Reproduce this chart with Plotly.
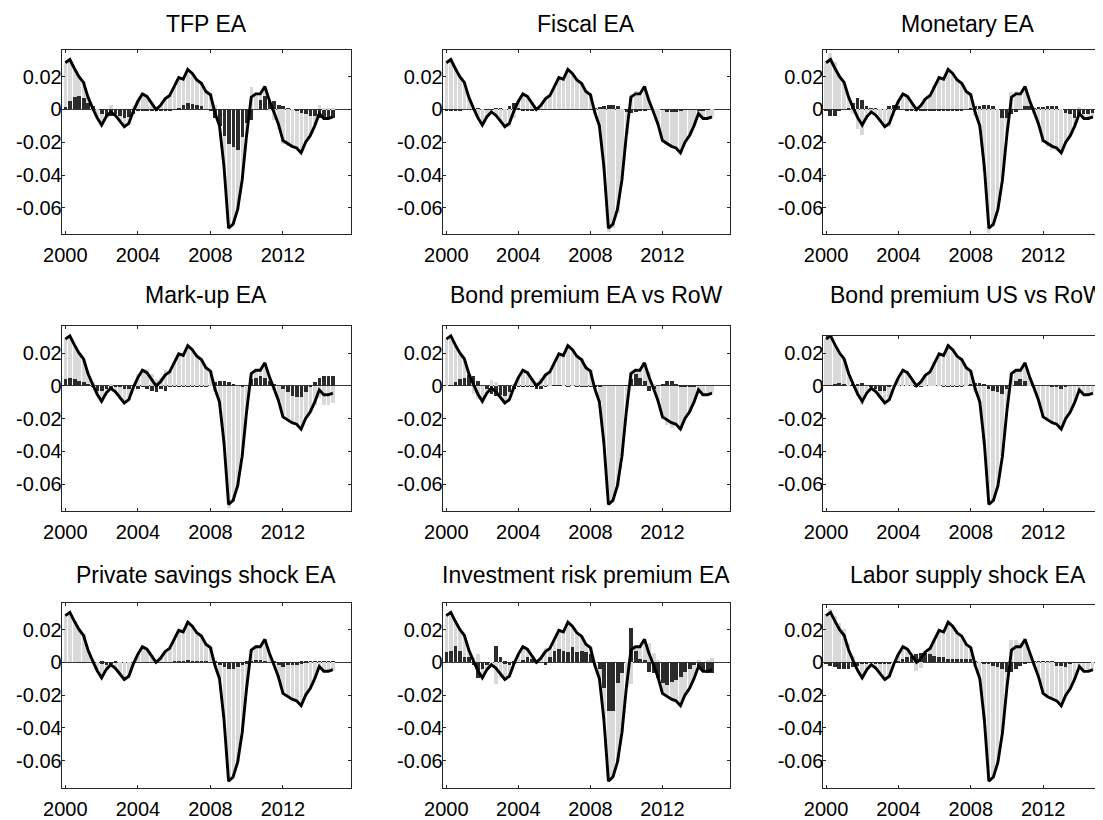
import plotly.graph_objects as go

# ---------------- data ----------------
dates = [2000 + 0.25 * i for i in range(60)]  # 2000Q1 .. 2014Q4

total = [0.0285, 0.0305, 0.0250, 0.0200, 0.0165, 0.0075, 0.0010, -0.0050,
         -0.0095, -0.0045, -0.0015, -0.0035, -0.0070, -0.0105, -0.0085, -0.0010,
         0.0050, 0.0095, 0.0080, 0.0040, 0.0000, 0.0025, 0.0065, 0.0085,
         0.0145, 0.0195, 0.0185, 0.0245, 0.0220, 0.0180, 0.0160, 0.0110,
         0.0090, -0.0020, -0.0100, -0.0350, -0.0725, -0.0700, -0.0610, -0.0430,
         -0.0150, 0.0075, 0.0095, 0.0095, 0.0140, 0.0055, -0.0015, -0.0090,
         -0.0190, -0.0210, -0.0225, -0.0235, -0.0265, -0.0200, -0.0160, -0.0100,
         -0.0025, -0.0055, -0.0055, -0.0045]

tfp = [0.0015, 0.005, 0.0075, 0.0085, 0.007, 0.004, 0.002, 0.0,
       -0.003, -0.004, -0.004, -0.003, -0.004, -0.005, -0.0045, -0.003,
       -0.001, -0.0005, -0.0005, -0.0005, -0.0005, -0.0005, -0.0005, -0.0005,
       0.0005, 0.001, 0.003, 0.004, 0.0035, 0.003, 0.002, 0.0,
       -0.001, -0.005, -0.010, -0.016, -0.021, -0.023, -0.025, -0.017,
       -0.008, -0.0065, 0.0, 0.006, 0.008, 0.006, 0.005, 0.003,
       0.002, 0.001, 0.0, -0.001, -0.002, -0.003, -0.004, -0.004,
       -0.005, -0.006, -0.006, -0.005]

fiscal = [-0.0005, -0.0005, -0.0005, -0.0005, 0.0, 0.0, 0.0005, 0.0005,
          0.0, -0.0005, -0.0005, 0.001, 0.0005, 0.0, 0.002, 0.004,
          0.001, -0.0005, -0.0005, -0.0005, 0.0, 0.0, 0.0, 0.0,
          0.0, 0.0, 0.0, 0.0, 0.0, 0.0, 0.0, 0.0,
          0.0005, 0.001, 0.0015, 0.002, 0.0025, 0.0025, 0.002, 0.0,
          -0.0015, -0.002, -0.0015, -0.001, -0.0005, 0.0, 0.0, 0.0,
          -0.0005, -0.0015, -0.0015, -0.0015, -0.001, -0.0005, -0.0005, -0.0005,
          -0.001, -0.001, -0.0005, 0.0]

monetary = [-0.001, -0.004, -0.004, -0.001, 0.0, 0.001, 0.004, 0.007,
            0.006, 0.002, 0.001, 0.0005, 0.0, 0.0, 0.002, 0.003,
            0.002, 0.0, -0.0005, -0.0005, -0.0005, -0.0005, -0.0005, -0.0005,
            -0.0005, -0.0005, -0.0005, -0.0005, -0.0005, -0.0005, -0.0005, 0.0,
            0.001, 0.002, 0.002, 0.0025, 0.003, 0.002, 0.0, -0.005,
            -0.005, -0.003, -0.0015, 0.0, 0.002, 0.002, 0.001, 0.0015,
            0.0015, 0.002, 0.002, 0.002, 0.0, -0.002, -0.003, -0.005,
            -0.004, -0.003, -0.003, -0.002]

markup = [0.004, 0.005, 0.004, 0.003, 0.002, 0.001, -0.001, -0.003,
          -0.003, -0.002, -0.002, -0.001, -0.001, -0.002, -0.002, -0.001,
          -0.002, -0.001, -0.002, -0.003, -0.004, -0.002, -0.003, -0.001,
          -0.0005, -0.0005, -0.0005, -0.0005, -0.0005, -0.0005, -0.0005, -0.0005,
          0.0, 0.002, 0.003, 0.003, 0.002, 0.001, 0.0, -0.001,
          0.0, 0.004, 0.005, 0.006, 0.005, 0.003, 0.001, 0.0,
          -0.002, -0.004, -0.006, -0.007, -0.007, -0.004, -0.001, 0.002,
          0.005, 0.006, 0.006, 0.006]

bond_ea = [0.0, 0.0005, 0.002, 0.004, 0.005, 0.007, 0.006, 0.003,
           0.0, -0.002, -0.005, -0.006, -0.006, -0.006, -0.004, -0.002,
           -0.001, -0.001, -0.001, -0.001, -0.002, -0.002, -0.001, 0.0,
           0.0005, 0.0005, 0.0, -0.0005, 0.0, -0.0005, -0.001, -0.001,
           -0.001, -0.001, -0.001, 0.0, 0.0, 0.0, 0.0, 0.0,
           0.0, 0.004, 0.007, 0.005, 0.003, -0.003, -0.002, 0.0,
           0.001, 0.003, 0.003, 0.001, -0.0005, -0.0005, -0.001, -0.001,
           0.0, 0.0, 0.0, 0.0]

bond_us = [0.0005, 0.0005, 0.001, 0.002, 0.001, 0.0, 0.001, 0.001,
           0.002, 0.0, -0.001, -0.002, -0.003, -0.003, -0.001, 0.0,
           0.0, 0.0, 0.0, 0.0, -0.001, -0.0005, 0.0, 0.0,
           0.0, 0.0, -0.001, -0.001, -0.001, -0.001, -0.001, 0.0,
           0.001, 0.002, 0.002, 0.001, -0.002, -0.003, -0.004, -0.005,
           -0.002, 0.0, 0.003, 0.004, 0.003, 0.0, 0.0, 0.0,
           0.0, 0.0, -0.001, -0.001, -0.002, -0.001, 0.0, 0.0,
           0.0, 0.0, 0.0, 0.0]

savings = [0.0, 0.0, 0.0, -0.0005, -0.0005, 0.0, 0.0, 0.0,
           -0.001, -0.002, -0.0015, -0.0005, 0.0, 0.0, 0.0, 0.0,
           0.0, 0.0, 0.0, 0.0, 0.0, 0.0, 0.0, 0.0,
           0.0005, 0.0005, 0.0005, 0.001, 0.0005, 0.0005, 0.0005, 0.0005,
           0.0, -0.001, -0.002, -0.003, -0.004, -0.004, -0.003, -0.002,
           -0.001, 0.0005, 0.001, 0.001, 0.0005, 0.0, -0.001, -0.002,
           -0.003, -0.002, -0.002, -0.002, -0.001, -0.0005, 0.0005, 0.0005,
           0.0005, 0.0005, 0.0005, 0.0005]

invest = [0.006, 0.007, 0.010, 0.007, 0.003, 0.003, -0.002, -0.010,
          -0.004, -0.002, 0.0, 0.010, 0.003, -0.001, -0.002, -0.001,
          0.0, 0.001, 0.003, 0.002, 0.001, 0.0, -0.002, 0.003,
          0.007, 0.008, 0.007, 0.006, 0.009, 0.006, 0.007, 0.006,
          0.005, 0.0, -0.004, -0.016, -0.030, -0.030, -0.013, -0.007,
          0.0, 0.021, 0.007, 0.002, 0.001, -0.006, -0.007, -0.010,
          -0.013, -0.014, -0.012, -0.011, -0.009, -0.006, -0.004, -0.002,
          -0.004, -0.005, -0.007, -0.007]

labor = [-0.001, -0.002, -0.003, -0.004, -0.004, -0.004, -0.003, -0.002,
         -0.001, -0.001, -0.001, -0.001, -0.001, -0.001, -0.001, 0.0,
         0.001, 0.002, 0.003, 0.004, 0.005, 0.006, 0.006, 0.005,
         0.004, 0.003, 0.003, 0.002, 0.002, 0.002, 0.002, 0.002,
         0.002, 0.001, 0.0, -0.001, -0.001, -0.002, -0.003, -0.004,
         -0.006, -0.006, -0.004, -0.002, -0.001, 0.0005, 0.0005, 0.0005,
         0.0005, 0.0005, 0.0005, -0.002, -0.002, -0.003, -0.001, -0.0005,
         -0.0005, -0.0005, -0.0005, 0.0]

titles = ["TFP EA", "Fiscal EA", "Monetary EA",
          "Mark-up EA", "Bond premium EA vs RoW", "Bond premium US vs RoW",
          "Private savings shock EA", "Investment risk premium EA", "Labor supply shock EA"]
shocks = [tfp, fiscal, monetary, markup, bond_ea, bond_us, savings, invest, labor]

xtick_vals = [2000, 2004, 2008, 2012]
ytick_vals = [-0.06, -0.04, -0.02, 0, 0.02]
ytick_text = ["-0.06", "-0.04", "-0.02", "0", "0.02"]

# ---------------- layout geometry (pixels) ----------------
W, H = 1103, 820
OFF = 8  # the page body adds an 8 px margin around the figure
col_px = [(61.7, 351.0), (442.7, 730.0), (823.3, 1111.0)]
col_xrange = [(1999.8, 2015.75), (1999.8, 2015.75), (1999.85, 2015.75)]
# (top px, bottom px, y range) per panel
panel_y = [
    (50.0, 234.3, (-0.0762, 0.0363)), (50.0, 234.3, (-0.0762, 0.0363)), (50.0, 234.3, (-0.0762, 0.0363)),
    (326.0, 510.7, (-0.0763, 0.0365)), (326.0, 510.7, (-0.0763, 0.0365)), (336.0, 510.7, (-0.0763, 0.0304)),
    (603.3, 788.3, (-0.0769, 0.0360)), (603.3, 788.3, (-0.0769, 0.0360)), (605.0, 788.3, (-0.0769, 0.0350)),
]
title_y_px = [24, 295, 575]
title_x_px = [206.4, 586.4, 967.6]

DARK = "#2b2b2b"
LIGHT = "#d9d9d9"
AXC = "#262626"
TICKFONT = dict(family="Liberation Sans, Arial, sans-serif", size=20, color="#000000")
TITLEFONT = dict(family="Liberation Sans, Arial, sans-serif", size=23, color="#000000")

fig = go.Figure()
layout = dict(width=W, height=H, margin=dict(l=0, r=0, t=0, b=0, pad=0, autoexpand=False),
              paper_bgcolor="white", plot_bgcolor="white",
              barmode="relative", bargap=0, showlegend=False, annotations=[])


def fx(px):
    return min(max((px - OFF) / W, 0.0), 1.0)


def fy(px):
    return min(max(1 - (px - OFF) / H, 0.0), 1.0)


for i, (title, shock) in enumerate(zip(titles, shocks)):
    r, c = divmod(i, 3)
    sfx = "" if i == 0 else str(i + 1)
    xa, ya = "x" + sfx, "y" + sfx
    other = [t - s for t, s in zip(total, shock)]
    fig.add_trace(go.Bar(x=dates, y=shock, width=0.2, marker=dict(color=DARK, line=dict(width=0)),
                         xaxis=xa, yaxis=ya, hoverinfo="skip"))
    fig.add_trace(go.Bar(x=dates, y=other, width=0.2, marker=dict(color=LIGHT, line=dict(width=0)),
                         xaxis=xa, yaxis=ya, hoverinfo="skip"))
    fig.add_trace(go.Scatter(x=dates, y=total, mode="lines", line=dict(color="black", width=2.9),
                             xaxis=xa, yaxis=ya, hoverinfo="skip"))

    x0, x1 = col_px[c]
    xr = list(col_xrange[c])
    if x1 - OFF > W:  # right-most column runs past the visible edge
        scale = (xr[1] - xr[0]) / (x1 - x0)
        xr[1] = xr[0] + (W + OFF - x0) * scale
    top, bot, yr = panel_y[i]
    layout["xaxis" + sfx] = dict(
        domain=[fx(x0), fx(x1)], range=xr, anchor=ya, automargin=False,
        tickvals=xtick_vals, ticktext=[str(v) for v in xtick_vals],
        ticks="inside", ticklen=3, tickwidth=1, tickcolor=AXC,
        showline=True, linecolor=AXC, linewidth=1, mirror="ticks",
        showgrid=False, zeroline=False, tickfont=TICKFONT, ticklabelstandoff=3,
    )
    layout["yaxis" + sfx] = dict(
        domain=[fy(bot), fy(top)], range=list(yr), anchor=xa, automargin=False,
        tickvals=ytick_vals, ticktext=ytick_text,
        ticks="inside", ticklen=3, tickwidth=1, tickcolor=AXC,
        showline=True, linecolor=AXC, linewidth=1, mirror=("ticks" if c < 2 else False),
        showgrid=False, zeroline=True, zerolinecolor="#3a3a3a", zerolinewidth=1,
        tickfont=TICKFONT, ticklabelstandoff=-5,
    )
    layout["annotations"].append(dict(
        text=title, x=(title_x_px[c] - OFF) / W, y=1 - (title_y_px[r] - OFF) / H,
        xref="paper", yref="paper",
        xanchor="center", yanchor="middle", showarrow=False, font=TITLEFONT))

fig.update_layout(**layout)
fig.write_html("out.html")
